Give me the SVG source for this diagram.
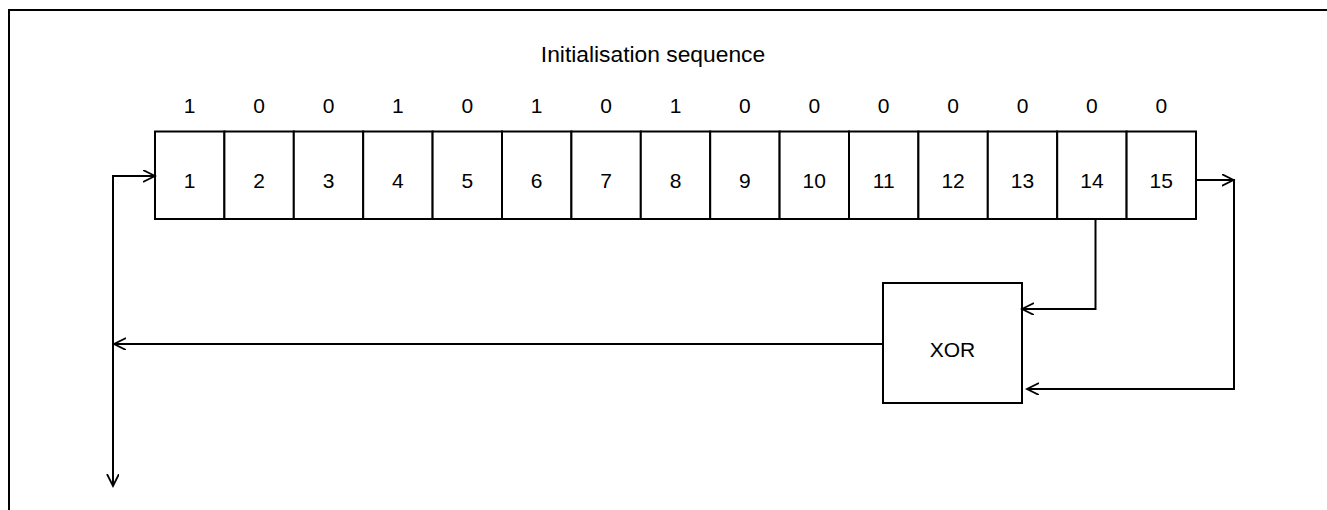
<svg xmlns="http://www.w3.org/2000/svg" width="1327" height="510" viewBox="0 0 1327 510">
<style>
.ln{fill:none;stroke:#000;stroke-width:2}
.box{fill:#fff;stroke:#000;stroke-width:2}
.t{font-family:"Liberation Sans",Arial,sans-serif;font-size:21px;fill:#000;text-anchor:middle}
.title{font-size:22.8px}
</style>
<defs>
<marker id="arr" markerUnits="userSpaceOnUse" markerWidth="14" markerHeight="14" refX="12" refY="6" orient="auto" viewBox="0 0 14 14">
<path d="M0,0 L12,6 L0,12" fill="none" stroke="#000" stroke-width="1.8"/>
</marker>
</defs>
<rect width="1327" height="510" fill="#fff"/>
<path class="ln" d="M9,510 V10 H1327"/>
<text class="t title" x="653" y="62">Initialisation sequence</text>
<g id="seq">
<text class="t" x="189.7" y="113">1</text>
<text class="t" x="259.1" y="113">0</text>
<text class="t" x="328.5" y="113">0</text>
<text class="t" x="397.9" y="113">1</text>
<text class="t" x="467.3" y="113">0</text>
<text class="t" x="536.7" y="113">1</text>
<text class="t" x="606.1" y="113">0</text>
<text class="t" x="675.5" y="113">1</text>
<text class="t" x="744.9" y="113">0</text>
<text class="t" x="814.3" y="113">0</text>
<text class="t" x="883.7" y="113">0</text>
<text class="t" x="953.1" y="113">0</text>
<text class="t" x="1022.5" y="113">0</text>
<text class="t" x="1091.9" y="113">0</text>
<text class="t" x="1161.3" y="113">0</text>
</g>
<g id="register">
<g id="cell1"><rect class="box" x="155" y="131.5" width="69.4" height="87.5"/><text class="t" x="189.7" y="188">1</text></g>
<g id="cell2"><rect class="box" x="224.4" y="131.5" width="69.4" height="87.5"/><text class="t" x="259.1" y="188">2</text></g>
<g id="cell3"><rect class="box" x="293.8" y="131.5" width="69.4" height="87.5"/><text class="t" x="328.5" y="188">3</text></g>
<g id="cell4"><rect class="box" x="363.2" y="131.5" width="69.4" height="87.5"/><text class="t" x="397.9" y="188">4</text></g>
<g id="cell5"><rect class="box" x="432.6" y="131.5" width="69.4" height="87.5"/><text class="t" x="467.3" y="188">5</text></g>
<g id="cell6"><rect class="box" x="502" y="131.5" width="69.4" height="87.5"/><text class="t" x="536.7" y="188">6</text></g>
<g id="cell7"><rect class="box" x="571.4" y="131.5" width="69.4" height="87.5"/><text class="t" x="606.1" y="188">7</text></g>
<g id="cell8"><rect class="box" x="640.8" y="131.5" width="69.4" height="87.5"/><text class="t" x="675.5" y="188">8</text></g>
<g id="cell9"><rect class="box" x="710.2" y="131.5" width="69.4" height="87.5"/><text class="t" x="744.9" y="188">9</text></g>
<g id="cell10"><rect class="box" x="779.6" y="131.5" width="69.4" height="87.5"/><text class="t" x="814.3" y="188">10</text></g>
<g id="cell11"><rect class="box" x="849" y="131.5" width="69.4" height="87.5"/><text class="t" x="883.7" y="188">11</text></g>
<g id="cell12"><rect class="box" x="918.4" y="131.5" width="69.4" height="87.5"/><text class="t" x="953.1" y="188">12</text></g>
<g id="cell13"><rect class="box" x="987.8" y="131.5" width="69.4" height="87.5"/><text class="t" x="1022.5" y="188">13</text></g>
<g id="cell14"><rect class="box" x="1057.2" y="131.5" width="69.4" height="87.5"/><text class="t" x="1091.9" y="188">14</text></g>
<g id="cell15"><rect class="box" x="1126.6" y="131.5" width="69.4" height="87.5"/><text class="t" x="1161.3" y="188">15</text></g>
</g>
<g id="xor"><rect class="box" x="883" y="283" width="139" height="120"/><text class="t" x="952.5" y="357">XOR</text></g>
<g id="connectors">
<path class="ln" d="M883,344 H114" marker-end="url(#arr)"/>
<path class="ln" d="M113,176 V486" marker-end="url(#arr)"/>
<path class="ln" d="M112,176 H155" marker-end="url(#arr)"/>
<path class="ln" d="M1196,180 H1233.5" marker-end="url(#arr)"/>
<path class="ln" d="M1234,179 V389 H1027" marker-end="url(#arr)"/>
<path class="ln" d="M1095.5,219 V309 H1022" marker-end="url(#arr)"/>
</g>
</svg>
